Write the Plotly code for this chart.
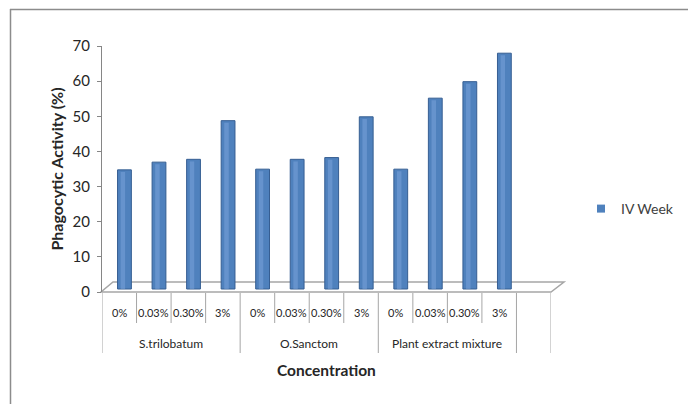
import plotly.graph_objects as go

# Phagocytic activity at week IV by plant extract and concentration
groups = ["S.trilobatum", "O.Sanctom", "Plant extract mixture"]
concentrations = ["0%", "0.03%", "0.30%", "3%"]
series_name = "IV Week"
activity = [33.9, 36.1, 36.9, 47.9,
            34.1, 36.9, 37.4, 49.0,
            34.1, 54.3, 59.0, 67.1]
y_ticks = [0, 10, 20, 30, 40, 50, 60, 70]

W, H = 688, 404
PL, PR, PT, PB = 102, 551, 46, 292          # plot area in pixels
N_SLOTS = len(groups) * len(concentrations) + 1   # one empty trailing slot
X_RANGE = [-0.5, N_SLOTS - 0.5]
DEPTH_SHIFT_PX = 3                           # columns sit back on the floor
PX_PER_UNIT = (PB - PT) / (y_ticks[-1] - y_ticks[0])
shift = DEPTH_SHIFT_PX / PX_PER_UNIT

BLUE = "#4F81BD"
EDGE = "#365E92"
GRID = "#A6A6A6"
AXIS = "#868686"
TEXT = "#262626"
FONT = "Lato"


def px(xp):
    return (xp - PL) / (PR - PL)


def py(yp):
    return (PB - yp) / (PB - PT)


x_pos = list(range(len(activity)))
bar_w = 0.40
bar_off = -bar_w / 2 + 0.15

fig = go.Figure()

# main columns
fig.add_trace(go.Bar(
    x=x_pos, y=activity, width=bar_w, offset=bar_off,
    marker=dict(color=BLUE, line=dict(color=EDGE, width=1)),
    xaxis="x", yaxis="y2", showlegend=False, name=series_name,
))
# soft highlight along each column for a rounded look
fig.add_trace(go.Bar(
    x=x_pos, y=[v - 0.6 for v in activity], width=0.13, offset=bar_off + 0.09,
    marker=dict(color="rgba(125,165,222,0.5)", line=dict(width=0)),
    xaxis="x", yaxis="y2", showlegend=False, hoverinfo="skip",
))
# legend entry (also anchors the value axis)
fig.add_trace(go.Scatter(
    x=[None], y=[None], mode="markers", name=series_name,
    marker=dict(symbol="square", size=8, color=BLUE),
    xaxis="x", yaxis="y",
))

shapes = []
# floor of the 3D plot area
floor = (f"M{px(101)},{py(292)} L{px(551)},{py(292)} "
         f"L{px(564)},{py(282)} L{px(113)},{py(282)} Z")
shapes.append(dict(type="path", path=floor, xref="paper", yref="paper",
                   line=dict(color=GRID, width=1.5), fillcolor="white",
                   layer="below"))

# category table dividers
n_per = len(concentrations)
for k in range(N_SLOTS + 1):
    long = (k % n_per == 0) or k == N_SLOTS
    shapes.append(dict(type="line", xref="x", yref="paper",
                       x0=k - 0.5, x1=k - 0.5,
                       y0=py(293), y1=py(353 if long else 323),
                       line=dict(color=GRID, width=1)))

# outer chart frame (top and left edges)
shapes.append(dict(type="line", xref="paper", yref="paper",
                   x0=px(10), x1=px(W), y0=py(9.5), y1=py(9.5),
                   line=dict(color="#8C8C8C", width=1.5)))
shapes.append(dict(type="line", xref="paper", yref="paper",
                   x0=px(10.5), x1=px(10.5), y0=py(9), y1=py(H),
                   line=dict(color="#8C8C8C", width=1.5)))

annotations = []
for gi, g in enumerate(groups):
    for ci, c in enumerate(concentrations):
        annotations.append(dict(
            x=gi * n_per + ci, y=py(312), xref="x", yref="paper",
            text=c, showarrow=False, font=dict(family=FONT, size=11, color=TEXT),
            xanchor="center", yanchor="middle"))
    annotations.append(dict(
        x=gi * n_per + (n_per - 1) / 2, y=py(343), xref="x", yref="paper",
        text=g, showarrow=False, font=dict(family=FONT, size=12, color=TEXT),
        xanchor="center", yanchor="middle"))
annotations.append(dict(
    x=0.5, y=py(370), xref="paper", yref="paper", text="<b>Concentration</b>",
    showarrow=False, font=dict(family=FONT, size=15.5, color=TEXT),
    xanchor="center", yanchor="middle"))

fig.update_layout(
    width=W, height=H,
    margin=dict(l=PL, r=W - PR, t=PT, b=H - PB, autoexpand=False),
    paper_bgcolor="white", plot_bgcolor="rgba(0,0,0,0)",
    barmode="overlay",
    font=dict(family=FONT, color=TEXT),
    xaxis=dict(range=X_RANGE, showgrid=False, zeroline=False,
               showticklabels=False, showline=False, fixedrange=True),
    yaxis=dict(range=[y_ticks[0], y_ticks[-1]], tickvals=y_ticks,
               showgrid=False, zeroline=False, showline=True,
               linecolor=AXIS, linewidth=1, ticks="outside", ticklen=4,
               tickcolor=AXIS, tickfont=dict(family=FONT, size=15, color=TEXT),
               ticklabelstandoff=4,
               title=dict(text="<b>Phagocytic Activity (%)</b>",
                          font=dict(family=FONT, size=16, color=TEXT),
                          standoff=4)),
    yaxis2=dict(range=[y_ticks[0] - shift, y_ticks[-1] - shift],
                overlaying="y", visible=False),
    legend=dict(x=px(581), y=py(209), xanchor="left", yanchor="middle",
                font=dict(family=FONT, size=14, color="#404040"),
                bgcolor="rgba(0,0,0,0)", itemwidth=30),
    shapes=shapes, annotations=annotations,
)

fig.write_html("out.html")
